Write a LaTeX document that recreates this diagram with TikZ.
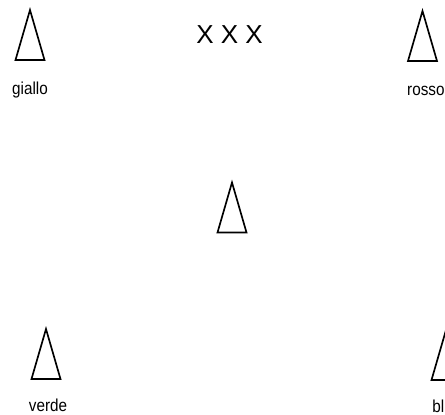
\documentclass[tikz,border=0pt]{standalone}
\usepackage{fontspec}
\setmainfont{Liberation Sans}
\newfontfamily\lblfont[FakeStretch=0.88]{Liberation Sans}
\usepackage{tikz}
\usetikzlibrary{positioning}

\begin{document}
\begin{tikzpicture}[x=0.75pt, y=-0.75pt, line width=1.25pt,
  lbl/.style={font=\lblfont\fontsize{13}{15}\selectfont, inner sep=0pt, text height=9.5pt, text depth=1pt},
  ttl/.style={font=\fontsize{19.5}{23}\selectfont, inner sep=0pt, anchor=base},
  cone/.pic={\draw (0,0) -- (14.5,50) -- (-14.5,50) -- cycle; \coordinate (-base) at (0,50);}]
\useasboundingbox (0,0) rectangle (445,414);
\pic (giallo) at (30,10) {cone};
\pic (rosso) at (422.5,11) {cone};
\pic (mid) at (232,182.5) {cone};
\pic (verde) at (46,329) {cone};
\pic (blu) at (446,330) {cone};
\node[ttl] (xxx) at (229.5,43.3) {X X X};
\node[lbl, below=15.5pt of giallo-base] (giallo-txt) {giallo};
\node[lbl, below=15.5pt of rosso-base, xshift=2.5pt] (rosso-txt) {rosso};
\node[lbl, below=14.3pt of verde-base, xshift=1.5pt] (verde-txt) {verde};
\node[lbl, below=14.3pt of blu-base, xshift=-2.5pt] (blu-txt) {blu};
\end{tikzpicture}
\end{document}
